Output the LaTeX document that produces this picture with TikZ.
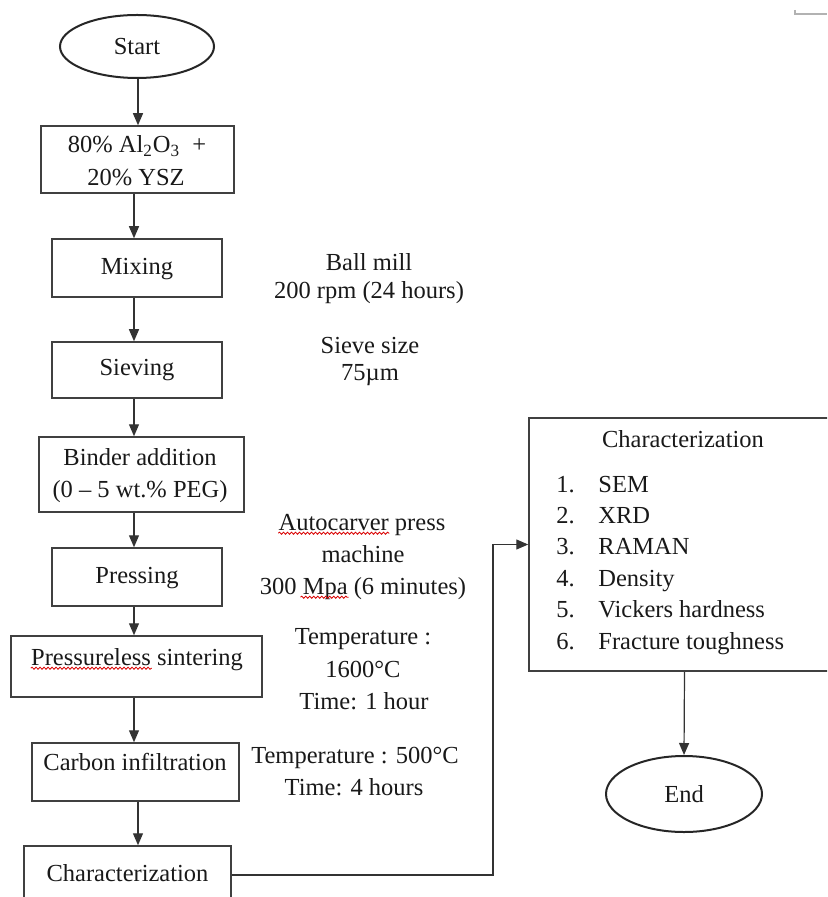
\documentclass[tikz,border=0pt]{standalone}
\usepackage{fontspec}
\setmainfont{Liberation Serif}
\usetikzlibrary{arrows.meta,shapes.geometric,fit,decorations.pathmorphing}
\begin{document}
\begin{tikzpicture}[x=0.5pt,y=-0.5pt,
  font=\fontsize{12.25pt}{15pt}\selectfont,
  box/.style={draw=black!75, line width=0.75pt, inner sep=0pt, rectangle},
  oval/.style={draw=black!85, line width=1pt, ellipse, inner sep=0pt, text=black!90},
  txt/.style={anchor=base, inner sep=0pt, text=black!90},
  lft/.style={anchor=base west, inner sep=0pt, text=black!90},
  arr/.style={draw=black!80, line width=0.6pt, -{Triangle[length=6pt,width=5pt]}},
  squig/.style={draw=red!85!black, line width=0.4pt, decorate, decoration={snake, amplitude=0.55pt, segment length=2pt}}]
\useasboundingbox (0,0) rectangle (827,897);
\clip (0,0) rectangle (827,897);

% ovals
\node[oval, minimum width=77pt, minimum height=31.5pt] (start) at (137,46.5) {Start};
\node[oval, minimum width=78pt, minimum height=38pt] (endn) at (684,794) {End};

% boxes
\node[box, fit={(41,126) (234,193)}] (b1) {};
\node[box, fit={(52,239) (222,297)}] (mix) {};
\node[box, fit={(52,342) (222,398)}] (sieve) {};
\node[box, fit={(39,437) (244,512)}] (binder) {};
\node[box, fit={(52,548) (222,606)}] (press) {};
\node[box, fit={(11,636) (262,697)}] (sinter) {};
\node[box, fit={(32,743) (239,801)}] (carbon) {};
\node[box, fit={(24,846) (231,904)}] (char) {};
\node[box, fit={(529,418) (840,671)}] (rbox) {};

% box texts
\node[txt] at (137,153) {80\% Al\textsubscript{2}O\textsubscript{3}\ \ +};
\node[txt] at (136,186) {20\% YSZ};
\node[txt] at (137,275) {Mixing};
\node[txt] at (137,375) {Sieving};
\node[txt] at (140,465) {Binder addition};
\node[txt] at (140,497) {(0 -- 5 wt.\% PEG)};
\node[txt] at (137,583) {Pressing};
\node[txt] (tsinter) at (137,665) {Pressureless sintering};
\node[txt] at (135,770) {Carbon infiltration};
\node[txt] at (127.5,881) {Characterization};

% annotations
\node[txt] at (369,271) {Ball mill};
\node[txt] at (369,299) {200 rpm (24 hours)};
\node[txt] at (370,353) {Sieve size};
\node[txt] at (370,380) {75µm};
\node[txt] (tauto) at (362,530) {Autocarver press};
\node[txt] at (363,562) {machine};
\node[txt] (tmpa) at (363,594) {300 Mpa (6 minutes)};
\node[txt] at (363,644) {Temperature :};
\node[txt] at (363,677) {1600°C};
\node[txt] at (364,709) {Time: 1 hour};
\node[txt] at (355,763) {Temperature : 500°C};
\node[txt] at (354,795) {Time: 4 hours};

% spell-check squiggles
\draw[squig] ([yshift=-1.6pt]tsinter.base west) -- ++(121,0);
\draw[squig] ([yshift=-1.6pt]tauto.base west) -- ++(111,0);
\draw[squig] ([yshift=-1.6pt]tmpa.base west) ++(41,0) -- ++(48,0);

% right box content
\node[txt] at (683,447) {Characterization};
\foreach \n/\t/\y in {1/SEM/492, 2/XRD/523, 3/RAMAN/554, 4/Density/586, 5/Vickers hardness/617, 6/Fracture toughness/649}{
  \node[lft] at (556,\y) {\n.};
  \node[lft] at (598,\y) {\t};
}

% connectors
\coordinate (xa) at (138,0);
\coordinate (xb) at (134,0);
\coordinate (xc) at (493,0);
\draw[arr] (start.south -| xa) -- (b1.north -| xa);
\draw[arr] (b1.south -| xb) -- (mix.north -| xb);
\draw[arr] (mix.south -| xb) -- (sieve.north -| xb);
\draw[arr] (sieve.south -| xb) -- (binder.north -| xb);
\draw[arr] (binder.south -| xb) -- (press.north -| xb);
\draw[arr] (press.south -| xb) -- (sinter.north -| xb);
\draw[arr] (sinter.south -| xb) -- (carbon.north -| xb);
\draw[arr] (carbon.south -| xa) -- (char.north -| xa);
\draw[arr] (char.east) -| (xc |- rbox.west) -- (rbox.west);
\draw[arr] (rbox.south) -- (endn.north);

% faint mark at top right
\draw[black!30, line width=0.6pt] (795,10) -- (795,14) -- (827,14);
\end{tikzpicture}
\end{document}
